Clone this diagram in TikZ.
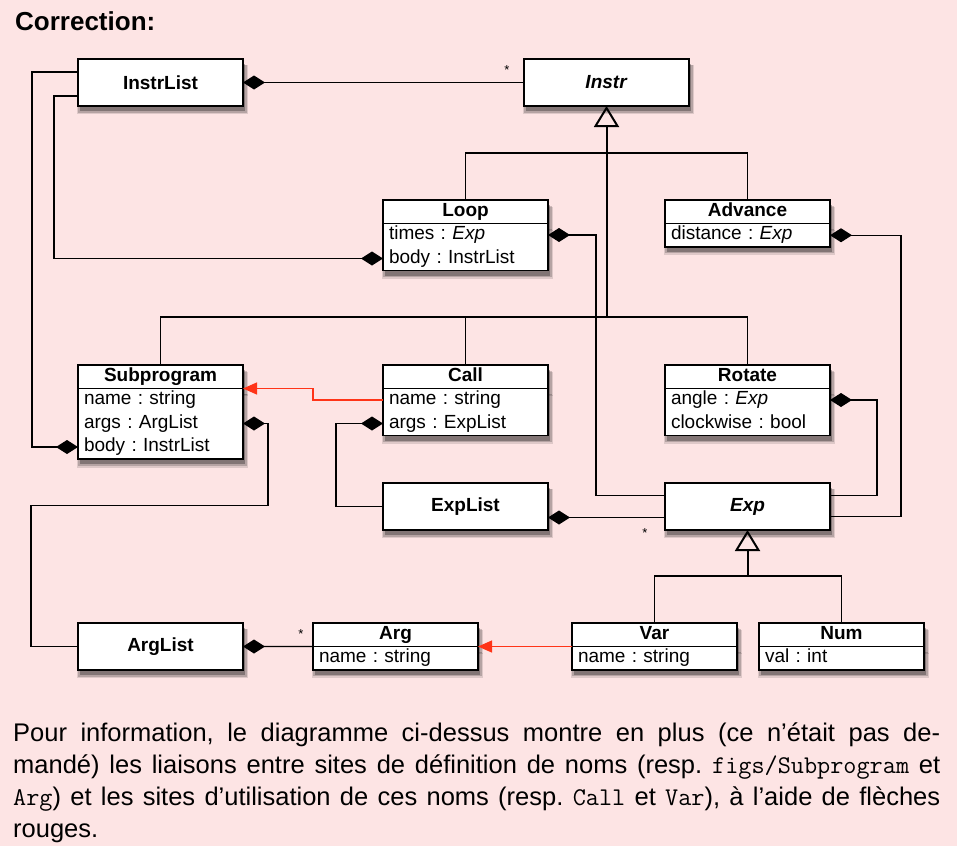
\documentclass[tikz,border=0pt]{standalone}
\usepackage{fontspec}
\setmainfont{Liberation Sans}
\usetikzlibrary{positioning,shadows,arrows.meta}
\definecolor{bgpink}{RGB}{253,228,228}
\definecolor{namered}{RGB}{255,52,24}
\tikzset{
  softshadow/.style={
    general shadow={shadow xshift=2pt,shadow yshift=-7pt,shadow scale=1.04,fill=black,opacity=.12},
    general shadow={shadow xshift=2pt,shadow yshift=-6pt,shadow scale=1.02,fill=black,opacity=.18},
    general shadow={shadow xshift=2pt,shadow yshift=-5pt,fill=black,opacity=.28}},
  umlbox/.style={draw,line width=1.8pt,fill=white,outer sep=0pt,softshadow},
  plaincls/.style={umlbox,anchor=north west,minimum width=165,minimum height=47,
    font=\bfseries\fontsize{19}{23.5}\selectfont},
  clshead/.style={umlbox,anchor=north west,minimum width=165,inner ysep=0pt,
    font=\bfseries\fontsize{19}{23.5}\selectfont,execute at begin node=\strut},
  clsattr/.style={umlbox,text width=153,inner xsep=6pt,inner ysep=0pt,align=left,
    font=\fontsize{19}{23.5}\selectfont\frenchspacing,
    execute at begin node=\strut,execute at end node=\strut},
  mult/.style={font=\fontsize{13}{15}\selectfont,inner sep=0pt},
  comp/.style={-{Diamond[length=22pt,width=14pt]},line width=1.3pt},
  gen/.style={-{Triangle[open,length=21pt,width=25pt]},line width=2pt},
  bar/.style={line width=1.5pt},
  namelink/.style={-{Triangle[length=14pt,width=12pt]},draw=namered,line width=1.3pt}
}
\begin{document}
\begin{tikzpicture}[x=1pt,y=-1pt]
  % Page
  \useasboundingbox (0,0) rectangle (957,846);
  \fill[bgpink] (0,0) rectangle (957,846);
  \node[anchor=base west,inner sep=0pt,font=\bfseries\fontsize{26}{30}\selectfont]
    (title) at (15,30) {Correction:};
  % Classes
  \node[plaincls] (instrlist) at (78,59) {InstrList};
  \node[plaincls] (instr) at (524,59) {\textit{Instr}};
  \node[clshead] (loopH) at (383,200) {Loop};
  \node[clsattr,below=0pt of loopH] (loopA) {times : \textit{Exp}\\body : InstrList};
  \node[clshead] (advH) at (665,200) {Advance};
  \node[clsattr,below=0pt of advH] (advA) {distance : \textit{Exp}};
  \node[clshead] (subH) at (78,365) {Subprogram};
  \node[clsattr,below=0pt of subH] (subA) {name : string\\args : ArgList\\body : InstrList};
  \node[clshead] (callH) at (383,365) {Call};
  \node[clsattr,below=0pt of callH] (callA) {name : string\\args : ExpList};
  \node[clshead] (rotH) at (665,365) {Rotate};
  \node[clsattr,below=0pt of rotH] (rotA) {angle : \textit{Exp}\\clockwise : bool};
  \node[plaincls] (explist) at (383,483) {ExpList};
  \node[plaincls] (exp) at (665,483) {\textit{Exp}};
  \node[plaincls] (arglist) at (78,623) {ArgList};
  \node[clshead] (argH) at (313,623) {Arg};
  \node[clsattr,below=0pt of argH] (argA) {name : string};
  \node[clshead] (varH) at (572,623) {Var};
  \node[clsattr,below=0pt of varH] (varA) {name : string};
  \node[clshead] (numH) at (759,623) {Num};
  \node[clsattr,below=0pt of numH] (numA) {val : int};
  % Inheritance
  \coordinate (topbar) at (0,153);
  \coordinate (lowbar) at (0,317);
  \coordinate (expbar) at (0,576);
  \draw[bar] (loopH.north) -- (loopH.north |- topbar) -| (advH.north);
  \draw[bar] (subH.north) -- (subH.north |- lowbar) -| (rotH.north);
  \draw[bar] (callH.north) -- (callH.north |- lowbar);
  \draw[gen] (instr.south |- lowbar) -- (instr.south);
  \draw[bar] (varH.north) -- (varH.north |- expbar) -| (numH.north);
  \draw[gen] (exp.south |- expbar) -- (exp.south);
  % Compositions
  \draw[comp] (instr.west) -- (instrlist.east);
  \node[mult] (m1) at (507,70) {*};
  \draw[comp] ([yshift=10.5pt]instrlist.west) -- ++(-46,0) |- ([yshift=-58.5pt]subA.north west);
  \draw[comp] ([yshift=-13.5pt]instrlist.west) -- ++(-24,0) |- ([yshift=-35pt]loopA.north west);
  \draw[comp] ([yshift=11pt]exp.west) -- ++(-69,0) |- ([yshift=-11.5pt]loopA.north east);
  \draw[comp] ([yshift=-11pt]exp.west) -- ([yshift=-11pt]explist.east);
  \node[mult] (m2) at (645,533) {*};
  \draw[comp] (explist.west) -- ++(-47,0) |- ([yshift=-35pt]callA.north west);
  \draw[comp] ([yshift=11pt]exp.east) -- ++(47,0) |- ([yshift=-11.5pt]rotA.north east);
  \draw[comp] ([yshift=-10pt]exp.east) -- ++(71,0) |- (advA.east);
  \draw[comp] (arglist.west) -- ++(-47,0) |- ++(237,-141) |- ([yshift=-35pt]subA.north east);
  \draw[comp] (argH.south west) -- (arglist.east);
  \node[mult] (m3) at (301,634) {*};
  % Name links
  \draw[namelink] ([yshift=-11.5pt]callA.north west) -- ++(-70,0) |- (subH.south east);
  \draw[namelink] (varH.south west) -- (argH.south east);
  % Note
  \node[anchor=north west,inner sep=0pt,text width=927,align=justify,
    font=\fontsize{25.5}{32}\selectfont\frenchspacing] (note) at (13,718.6)
    {\strut Pour information, le diagramme ci-dessus montre en plus (ce n’était pas de-\linebreak
     mandé) les liaisons entre sites de définition de noms (resp. \texttt{figs/Subprogram} et\linebreak
     \texttt{Arg}) et les sites d’utilisation de ces noms (resp. \texttt{Call} et \texttt{Var}), à l’aide de flèches\linebreak
     rouges.};
\end{tikzpicture}
\end{document}
